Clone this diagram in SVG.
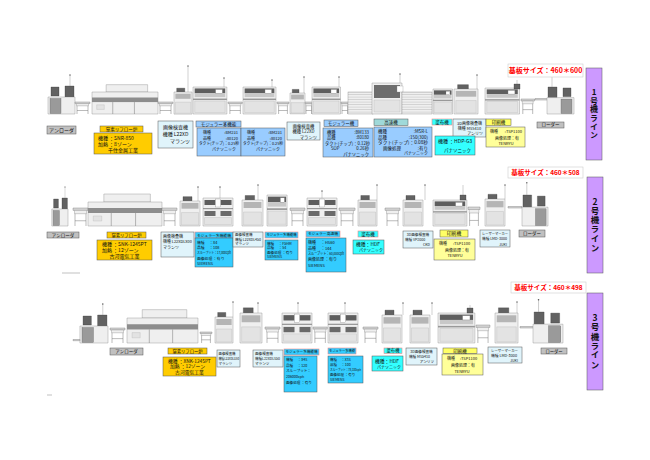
<svg xmlns="http://www.w3.org/2000/svg" width="650" height="460" viewBox="0 0 650 460">
<style>
.m1{fill:#efefef;stroke:#8a8a8a;stroke-width:.4;vector-effect:non-scaling-stroke}
.m2{fill:#d6d6d6;stroke:#777;stroke-width:.4;vector-effect:non-scaling-stroke}
.m3{fill:#e3e3e3;stroke:#aaa;stroke-width:.3;vector-effect:non-scaling-stroke}
.dk{fill:#626262;stroke:#333;stroke-width:.3;vector-effect:non-scaling-stroke}
.leg{fill:none;stroke:#777;stroke-width:.5;vector-effect:non-scaling-stroke}
.pole{stroke:#999;stroke-width:.45}
.lb{stroke:#555;stroke-width:.5}
.hr{stroke:#e88;stroke-width:.6}
.gray{fill:#c0c0c0}.gold{fill:#ffcc00}.pale{fill:#e0f4fb}.blue{fill:#99ccff}.cyan{fill:#33ccff}
.aqua{fill:#33ffff}.ylw{fill:#ffff99}.ylh{fill:#ffff66}.teal{fill:#9fd9d9}.purple{fill:#cc99ff}
.t{font-family:"Noto Sans CJK JP","Noto Sans",sans-serif;fill:#111}
.c{text-anchor:middle}.e{text-anchor:end}
.red{fill:#ff0000;font-weight:bold}
.b{font-weight:bold}
.vt{writing-mode:vertical-rl;text-orientation:upright;font-weight:bold;text-anchor:middle}
</style>
<defs>
<pattern id="stripe" width="4" height="2.5" patternUnits="userSpaceOnUse"><rect width="4" height="2.5" fill="#efefef"/><rect y="2" width="4" height=".5" fill="#bcbcbc"/></pattern>
<g id="tbl">
<rect x="0" y="0" width="15" height="1.6" class="m2"/>
<rect x="1.5" y="1.6" width="12" height="2.2" class="m1"/>
<path d="M2 3.8V12M13 3.8V12M2 8.5H13" class="leg"/>
</g>
<g id="mnt">
<rect x="0" y="0" width="30" height="28" class="m1"/>
<rect x="1.5" y="1.5" width="27" height="5" fill="#5e5e5e"/>
<rect x="1.5" y="6.5" width="27" height="4" fill="#c8c8c8"/>
<rect x="20" y="2.5" width="6" height="4" fill="#fff" stroke="#777" stroke-width=".3"/>
<rect x="0" y="12" width="30" height="1.5" fill="#999"/>
<rect x="1.5" y="14.5" width="27" height="12" class="m3"/>
</g>
<g id="mnt2">
<rect x="0" y="0" width="30" height="28" class="m1"/>
<rect x="1.5" y="2" width="11" height="5" fill="#5e5e5e"/>
<rect x="17.5" y="2" width="11" height="5" fill="#5e5e5e"/>
<rect x="12.5" y="1" width="5" height="8" fill="#fff" stroke="#777" stroke-width=".3"/>
<rect x="1.5" y="13" width="11" height="5" fill="#6a6a6a"/>
<rect x="17.5" y="13" width="11" height="5" fill="#6a6a6a"/>
<rect x="0" y="10" width="30" height="1.2" fill="#999"/>
<rect x="1.5" y="19.5" width="27" height="7" class="m3"/>
</g>
<g id="insp">
<rect x="3" y="-4.5" width="9" height="4.5" class="dk"/>
<rect x="0" y="0" width="20" height="26" class="m1"/>
<rect x="1.5" y="2" width="17" height="6" fill="#b5b5b5"/>
<rect x="1.5" y="12" width="17" height="13" class="m3"/>
</g>
<g id="reflow">
<rect x="15" y="-8" width="44" height="8" class="m1"/>
<rect x="0" y="0" width="70" height="24" class="m1"/>
<rect x="0" y="6" width="70" height="5" fill="#8d8d8d"/>
<path d="M22 11V24M45 11V24" class="leg"/>
<rect x="5" y="14" width="8" height="5" class="m3"/>
</g>
<g id="ldr">
<rect x="1" y="0" width="9" height="11" class="dk"/>
<rect x="16" y="1" width="8" height="9" class="dk"/>
<rect x="0" y="11" width="27" height="17" class="m1"/>
<rect x="14" y="12.5" width="11" height="15" fill="#9a9a9a" stroke="#555" stroke-width=".3"/>
<path d="M5 0V-11" class="pole"/><circle cx="5" cy="-11" r=".7" fill="#555"/>
</g>
</defs>

<g id="machines-line1">
<use href="#ldr" transform="translate(75,86) scale(-1,1)"/>
<use href="#tbl" transform="translate(75,102)"/>
<use href="#reflow" transform="translate(92,92) scale(0.943,0.917)"/>
<use href="#tbl" transform="translate(158,102)"/>
<use href="#insp" transform="translate(174,92) scale(0.9,0.85)"/>
<line class="pole" x1="188" y1="66" x2="188" y2="92"/><circle cx="188" cy="66" r=".7" fill="#555"/>
<use href="#mnt" transform="translate(193,87) scale(1.13,0.964)"/>
<line class="pole" x1="224" y1="78" x2="224" y2="87"/><circle cx="224" cy="78" r=".7" fill="#555"/>
<use href="#tbl" transform="translate(228,102) scale(0.95,1)"/>
<use href="#mnt" transform="translate(243,87) scale(1.1,0.964)"/>
<line class="pole" x1="272" y1="80" x2="272" y2="87"/><circle cx="272" cy="80" r=".7" fill="#555"/>
<use href="#tbl" transform="translate(277,102) scale(0.8,1)"/>
<use href="#insp" transform="translate(290,93) scale(0.75,0.8)"/>
<line class="pole" x1="304" y1="77" x2="304" y2="93"/><circle cx="304" cy="77" r=".7" fill="#555"/>
<use href="#tbl" transform="translate(305,102) scale(0.5,1)"/>
<use href="#mnt" transform="translate(312,87) scale(0.95,0.964)"/>
<line class="pole" x1="339" y1="77" x2="339" y2="87"/><circle cx="339" cy="77" r=".7" fill="#555"/>
<use href="#tbl" transform="translate(341,102) scale(0.5,1)"/>
<rect x="348" y="92" width="25" height="22" fill="url(#stripe)" stroke="#8a8a8a" stroke-width=".4"/>
<rect x="372" y="83" width="30" height="31" class="m1"/>
<rect x="374" y="85" width="26" height="13" fill="#6d6d6d"/>
<rect x="374" y="100" width="26" height="12" class="m3"/>
<rect x="397" y="86" width="6" height="6" fill="#fff" stroke="#888" stroke-width=".3"/>
<line class="pole" x1="400" y1="74" x2="400" y2="83"/><circle cx="400" cy="74" r=".7" fill="#555"/>
<rect x="402" y="92" width="30" height="22" fill="url(#stripe)" stroke="#8a8a8a" stroke-width=".4"/>
<use href="#mnt" transform="translate(433,89) scale(0.65,0.893)"/>
<use href="#insp" transform="translate(454,89) scale(1.2,0.96)"/>
<line class="pole" x1="477" y1="75" x2="477" y2="89"/><circle cx="477" cy="75" r=".7" fill="#555"/>
<use href="#mnt" transform="translate(485,88) scale(1.15,0.93)"/>
<line class="pole" x1="517" y1="80" x2="517" y2="84"/><rect x="514" y="84" width="6" height="5" class="dk"/>
<use href="#tbl" transform="translate(521,99) scale(0.9,1.25)"/>
<rect x="535" y="98.5" width="13" height="1.5" class="m2"/>
<use href="#ldr" transform="translate(547,87) scale(1,0.964)"/>
</g>

<g id="machines-line2">
<use href="#ldr" transform="translate(68,198) scale(-0.6,1)"/>
<use href="#tbl" transform="translate(73,208) scale(1,1.5)"/>
<use href="#reflow" transform="translate(88,202) scale(1.057,1)"/>
<use href="#tbl" transform="translate(162,208) scale(1,1.5)"/>
<use href="#insp" transform="translate(180,201) scale(1,0.96)"/>
<line class="pole" x1="198" y1="187" x2="198" y2="201"/><circle cx="198" cy="187" r=".7" fill="#555"/>
<use href="#mnt2" transform="translate(203,198)"/>
<line class="pole" x1="220" y1="187" x2="220" y2="198"/><circle cx="220" cy="187" r=".7" fill="#555"/>
<use href="#insp" transform="translate(242,200) scale(1.05,1)"/>
<line class="pole" x1="258" y1="185" x2="258" y2="200"/><circle cx="258" cy="185" r=".7" fill="#555"/>
<use href="#mnt" transform="translate(267,195) scale(0.67,1.107)"/>
<use href="#tbl" transform="translate(290,208) scale(1,1.5)"/>
<use href="#mnt2" transform="translate(307,198)"/>
<line class="pole" x1="322" y1="191" x2="322" y2="198"/><circle cx="322" cy="191" r=".7" fill="#555"/>
<use href="#tbl" transform="translate(339,208) scale(1.07,1.5)"/>
<use href="#insp" transform="translate(358,200) scale(0.95,1)"/>
<line class="pole" x1="377" y1="185" x2="377" y2="200"/><circle cx="377" cy="185" r=".7" fill="#555"/>
<use href="#tbl" transform="translate(385,208) scale(1,1.5)"/>
<use href="#insp" transform="translate(403,200)"/>
<line class="pole" x1="425" y1="185" x2="425" y2="200"/><circle cx="425" cy="185" r=".7" fill="#555"/>
<use href="#mnt" transform="translate(433,200) scale(1.13,0.93)"/>
<line class="pole" x1="463" y1="185" x2="463" y2="196"/><rect x="460" y="195" width="6" height="5" class="dk"/>
<use href="#tbl" transform="translate(468,207) scale(0.8,1.58)"/>
<use href="#insp" transform="translate(485,199) scale(1,1.04)"/>
<line class="pole" x1="505" y1="185" x2="505" y2="199"/><circle cx="505" cy="185" r=".7" fill="#555"/>
<rect x="508" y="206.5" width="14" height="1.5" class="m2"/>
<use href="#ldr" transform="translate(522,195) scale(0.963,1.107)"/>
</g>

<g id="machines-line3">
<use href="#ldr" transform="translate(108,315) scale(-1.04,1)"/>
<rect x="73" y="339.5" width="7" height="1.2" class="m2"/>
<use href="#tbl" transform="translate(110,328) scale(1,1.25)"/>
<use href="#reflow" transform="translate(127,318) scale(1.014,1.042)"/>
<use href="#tbl" transform="translate(200,332) scale(0.8,0.92)"/>
<use href="#insp" transform="translate(215,317) scale(0.9,1)"/>
<line class="pole" x1="233" y1="302" x2="233" y2="317"/><circle cx="233" cy="302" r=".7" fill="#555"/>
<use href="#insp" transform="translate(240,313) scale(1.1,1.154)"/>
<line class="pole" x1="258" y1="303" x2="258" y2="313"/><circle cx="258" cy="303" r=".7" fill="#555"/>
<use href="#tbl" transform="translate(265,327) scale(1,1.33)"/>
<use href="#mnt2" transform="translate(282,313) scale(1,1.07)"/>
<line class="pole" x1="298" y1="303" x2="298" y2="313"/><circle cx="298" cy="303" r=".7" fill="#555"/>
<use href="#tbl" transform="translate(313,327) scale(0.95,1.33)"/>
<use href="#mnt2" transform="translate(328,313) scale(1,1.07)"/>
<line class="pole" x1="345" y1="303" x2="345" y2="313"/><circle cx="345" cy="303" r=".7" fill="#555"/>
<use href="#tbl" transform="translate(363,327) scale(1,1.33)"/>
<use href="#insp" transform="translate(382,315) scale(1,1.077)"/>
<line class="pole" x1="403" y1="303" x2="403" y2="315"/><circle cx="403" cy="303" r=".7" fill="#555"/>
<use href="#insp" transform="translate(410,315) scale(1,1.077)"/>
<line class="pole" x1="432" y1="303" x2="432" y2="315"/><circle cx="432" cy="303" r=".7" fill="#555"/>
<use href="#mnt" transform="translate(438,313) scale(1.23,1.07)"/>
<line class="pole" x1="470" y1="305" x2="470" y2="309"/><rect x="467" y="308" width="6" height="5" class="dk"/>
<use href="#tbl" transform="translate(476,325) scale(0.93,1.5)"/>
<use href="#insp" transform="translate(495,313) scale(1.15,1.154)"/>
<line class="pole" x1="517" y1="302" x2="517" y2="313"/><circle cx="517" cy="302" r=".7" fill="#555"/>
<rect x="520" y="326.5" width="14" height="1.5" class="m2"/>
<use href="#ldr" transform="translate(533,312) scale(1.11,1.107)"/>
</g>

<g id="connectors"></g>

<line x1="62" y1="273" x2="80" y2="273" stroke="#999" stroke-width=".6"/>
<line x1="47" y1="395" x2="52" y2="395" stroke="#999" stroke-width=".6"/>

<!-- Line 1 labels -->
<g id="l1-size"><rect x="508" y="64" width="75" height="13" fill="#fff" stroke="#ccc" stroke-width=".6"/><text class="t red c" x="545.5" y="73.3" font-size="7">基板サイズ：460＊600</text></g>
<g id="l1-line"><rect x="586" y="68" width="16" height="92" class="purple lb"/><text class="t vt" x="594" y="114" font-size="8" letter-spacing="0.6">1号機ライン</text></g>
<g id="l1-unloader"><rect x="47" y="126" width="29" height="8" class="gray lb"/><text class="t c" x="61.5" y="131.8" font-size="5">アンローダ</text></g>
<g id="l1-reflow-head"><rect x="100" y="126" width="43" height="6" class="gold lb"/><text class="t c" x="121.5" y="130.7" font-size="4.5">窒素リフロー炉</text></g>
<g id="l1-reflow"><rect x="94" y="133" width="58" height="21" class="gold lb"/><text class="t" font-size="5"><tspan x="98" y="139.5">機種 ：SNR-850</tspan><tspan x="98" y="145.5">加熱 ：8ゾーン</tspan><tspan x="108" y="151.8">千住金属工業</tspan></text></g>
<g id="l1-insp1"><rect x="158" y="121" width="35" height="27" class="pale lb"/><text class="t c" font-size="5"><tspan x="175.5" y="128.5">画像検査機</tspan><tspan x="175.5" y="135.5">機種 L22XD</tspan></text><text class="t e" x="190" y="142.5" font-size="5">マランツ</text></g>
<g id="l1-mod-head"><rect x="196" y="121" width="45" height="6" class="blue lb"/><text class="t c" x="218.5" y="125.6" font-size="4.5">モジュラー多機能</text></g>
<g id="l1-mod1"><rect x="197" y="128" width="44" height="28" class="blue lb"/><text class="t" font-size="4"><tspan x="203" y="134">機種</tspan><tspan x="203" y="139.5">品種</tspan></text><text class="t e" font-size="4"><tspan x="238" y="134">:BM231</tspan><tspan x="238" y="139.5">:80120</tspan></text><text class="t" x="199" y="145" font-size="4" textLength="40" lengthAdjust="spacingAndGlyphs">タクト(チップ)：0.25秒</text><text class="t" x="212" y="150.5" font-size="4">パナソニック</text></g>
<g id="l1-mod2"><rect x="241" y="128" width="44" height="28" class="blue lb"/><text class="t" font-size="4"><tspan x="247" y="134">機種</tspan><tspan x="247" y="139.5">品種</tspan></text><text class="t e" font-size="4"><tspan x="282" y="134">:BM231</tspan><tspan x="282" y="139.5">:80120</tspan></text><text class="t" x="243" y="145" font-size="4" textLength="40" lengthAdjust="spacingAndGlyphs">タクト(チップ)：0.25秒</text><text class="t" x="256" y="150.5" font-size="4">パナソニック</text></g>
<g id="l1-insp2"><rect x="287" y="122" width="33" height="18" class="pale lb"/><text class="t c" font-size="4.3"><tspan x="303.5" y="127.5">画像検査機</tspan><tspan x="303.5" y="133">機種 L22XD</tspan></text><text class="t e" x="317" y="138.5" font-size="4.3">マランツ</text></g>
<g id="l1-mod3-head"><rect x="324" y="120" width="34" height="6.5" class="blue lb"/><text class="t c" x="341" y="124.8" font-size="4.5">モジュラー機</text></g>
<g id="l1-mod3"><rect x="323" y="128" width="50" height="29" class="blue lb"/><text class="t" font-size="4.3"><tspan x="327" y="133.5">機種</tspan><tspan x="327" y="139">品種</tspan><tspan x="331" y="150">SOP</tspan></text><text class="t e" font-size="4.3"><tspan x="369" y="133.5">:BM133</tspan><tspan x="369" y="139">:80180</tspan><tspan x="369" y="150">0.26秒</tspan><tspan x="369" y="155.5">パナソニック</tspan></text><text class="t" x="325" y="144.5" font-size="4.3" textLength="45" lengthAdjust="spacingAndGlyphs">タクト(チップ)：0.12秒</text></g>
<g id="l1-hs-head"><rect x="374" y="119" width="34" height="6.5" class="teal lb"/><text class="t c" x="391" y="123.8" font-size="4.5">高速機</text></g>
<g id="l1-hs"><rect x="374" y="127" width="58" height="30" class="blue lb"/><text class="t" font-size="4.5"><tspan x="378" y="133">機種</tspan><tspan x="378" y="138.5">品種</tspan><tspan x="383" y="149.5">画像処理</tspan></text><text class="t e" font-size="4.5"><tspan x="428" y="133">:MSR-L</tspan><tspan x="428" y="138.5">:150(300)</tspan><tspan x="428" y="149.5">:有り</tspan></text><text class="t" x="378" y="144" font-size="4.5" textLength="50" lengthAdjust="spacingAndGlyphs">タクト(チップ)：0.08秒</text><text class="t e" x="428" y="155" font-size="4">パナソニック</text></g>
<g id="l1-3d"><rect x="453" y="119" width="33" height="18" class="pale lb"/><text class="t c" font-size="4"><tspan x="469.5" y="124.5">3D画像検査機</tspan><tspan x="469.5" y="129.8">機種 MS5410</tspan></text><text class="t e" x="483" y="135" font-size="4">アンリツ</text></g>
<g id="l1-coat-head"><rect x="432" y="119" width="20" height="6" class="aqua hr"/><text class="t c" x="442" y="123.5" font-size="4.5">塗布機</text></g>
<g id="l1-coat"><rect x="435" y="136" width="40" height="19" class="aqua lb"/><text class="t" x="438" y="143" font-size="5">機種 ：HDP-G3</text><text class="t" x="444" y="151.5" font-size="4.5">パナソニック</text></g>
<g id="l1-print-head"><rect x="486" y="119" width="25" height="6.5" class="ylh lb"/><text class="t c" x="498.5" y="123.8" font-size="4.5">印刷機</text></g>
<g id="l1-print"><rect x="486" y="127" width="39" height="20" class="ylw lb"/><text class="t" x="490" y="132.5" font-size="4">機種</text><text class="t e" x="522" y="132.5" font-size="4">:TSP1100</text><text class="t c" font-size="4"><tspan x="507" y="139.5">画像処理：有</tspan><tspan x="506" y="144.5">TENRYU</tspan></text></g>
<g id="l1-loader"><rect x="537" y="122" width="27" height="6" class="gray lb"/><text class="t c" x="550.5" y="126.3" font-size="4.5">ローダー</text></g>

<!-- Line 2 labels -->
<g id="l2-size"><rect x="508" y="167" width="75" height="11" fill="#fff" stroke="#ccc" stroke-width=".6"/><text class="t red c" x="545.5" y="174.8" font-size="6.5">基板サイズ：460＊508</text></g>
<g id="l2-line"><rect x="587" y="177" width="16" height="96" class="purple lb"/><text class="t vt" x="595" y="225" font-size="8.5" letter-spacing="0.8">2号機ライン</text></g>
<g id="l2-unloader"><rect x="47" y="232" width="32" height="6" class="gray lb"/><text class="t c" x="63" y="236.6" font-size="4.5">アンローダ</text></g>
<g id="l2-reflow-head"><rect x="107" y="232" width="39" height="6" class="gold lb"/><text class="t c" x="126.5" y="236.6" font-size="4.3">窒素リフロー炉</text></g>
<g id="l2-reflow"><rect x="97" y="240" width="55" height="20" class="gold lb"/><text class="t" font-size="5"><tspan x="102" y="245.5">機種 ：SNK-1245PT</tspan><tspan x="102" y="251.5">加熱 ：12ゾーン</tspan></text><text class="t c" x="124.5" y="258" font-size="5">古河電気工業</text></g>
<g id="l2-insp1"><rect x="161" y="232" width="33" height="25" class="pale lb"/><text class="t" font-size="4"><tspan x="163" y="237.5">画像検査機</tspan><tspan x="163" y="249">マランツ</tspan></text><text class="t" x="163" y="243" font-size="4" textLength="29" lengthAdjust="spacingAndGlyphs">機種 L22XDLX00</text></g>
<g id="l2-mod1-head"><rect x="195" y="232" width="38" height="6" class="cyan hr"/><text class="t c" x="214" y="236.5" font-size="3.8">モジュラー多機能機</text></g>
<g id="l2-mod1"><rect x="195" y="238" width="38" height="29" class="cyan lb"/><text class="t" font-size="3.8"><tspan x="197" y="243.5">機種 　：X4</tspan><tspan x="197" y="248.8">品種 　：108</tspan><tspan x="197" y="259.5">画像処理 ：有り</tspan><tspan x="197" y="265">SIEMENS</tspan></text><text class="t" x="197" y="254.2" font-size="3.8" textLength="34" lengthAdjust="spacingAndGlyphs">スループット：17,000cph</text></g>
<g id="l2-insp2"><rect x="233" y="232" width="30" height="15" class="pale lb"/><text class="t" font-size="3.5"><tspan x="235" y="236.3">画像検査機</tspan><tspan x="235" y="245.4">マランツ</tspan></text><text class="t" x="235" y="240.8" font-size="3.5" textLength="26" lengthAdjust="spacingAndGlyphs">機種 L22XDL450</text></g>
<g id="l2-mod2-head"><rect x="265" y="232" width="33" height="6" class="cyan hr"/><text class="t c" x="281.5" y="236.4" font-size="3.6" textLength="30" lengthAdjust="spacingAndGlyphs">モジュラー多機能機</text></g>
<g id="l2-mod2"><rect x="265" y="240" width="33" height="20" class="cyan lb"/><text class="t" font-size="3.6"><tspan x="267" y="244.5">機種 　：F5HM</tspan><tspan x="267" y="249">品種 　：54</tspan><tspan x="267" y="253.5">画像処理 ：有り</tspan><tspan x="267" y="258.2">SIEMENS</tspan></text></g>
<g id="l2-hs-head"><rect x="306" y="231" width="34" height="6" class="cyan hr"/><text class="t c" x="323" y="235.4" font-size="3.8">モジュラー高速機</text></g>
<g id="l2-hs"><rect x="306" y="238" width="40" height="34" class="cyan lb"/><text class="t" font-size="4"><tspan x="308" y="244">機種 　：HS60</tspan><tspan x="308" y="249.5">品種 　：144</tspan><tspan x="308" y="261">画像処理 ：有り</tspan><tspan x="308" y="266.5">SIEMENS</tspan></text><text class="t" x="308" y="255.2" font-size="4" textLength="36" lengthAdjust="spacingAndGlyphs">スループット：60,000cph</text></g>
<g id="l2-coat-head"><rect x="358" y="231" width="20" height="6" class="aqua hr"/><text class="t c" x="368" y="235.6" font-size="4.5">塗布機</text></g>
<g id="l2-coat"><rect x="353" y="240" width="31" height="14" class="aqua lb"/><text class="t" x="356" y="246" font-size="4.8">機種：HDF</text><text class="t" x="359" y="252" font-size="4">パナソニック</text></g>
<g id="l2-3d"><rect x="403" y="231" width="30" height="17" class="pale lb"/><text class="t c" x="418" y="236" font-size="3.6">3D画像検査機</text><text class="t" x="405" y="241" font-size="3.6">機種 VP2000</text><text class="t e" x="430" y="246" font-size="3.6">CKD</text></g>
<g id="l2-print-head"><rect x="440" y="230" width="28" height="7" class="ylh lb"/><text class="t c" x="454" y="235.2" font-size="4.8">印刷機</text></g>
<g id="l2-print"><rect x="434" y="239" width="41" height="21" class="ylw lb"/><text class="t" font-size="4"><tspan x="439" y="244.5">機種</tspan><tspan x="453" y="244.5">:TSP1100</tspan></text><text class="t c" font-size="4"><tspan x="457" y="252">画像処理：有</tspan><tspan x="455" y="257">TENRYU</tspan></text></g>
<g id="l2-laser"><rect x="480" y="230" width="30" height="17" class="pale lb"/><text class="t" x="482" y="235" font-size="3.6" textLength="26" lengthAdjust="spacingAndGlyphs">レーザーマーカー</text><text class="t" x="482" y="240.2" font-size="3.6" textLength="25" lengthAdjust="spacingAndGlyphs">機種 LMD-3000</text><text class="t e" x="507" y="245.5" font-size="3.6">JUKI</text></g>
<g id="l2-loader"><rect x="519" y="230" width="26" height="7" class="gray lb"/><text class="t c" x="532" y="234.9" font-size="4.5">ローダー</text></g>

<!-- Line 3 labels -->
<g id="l3-size"><rect x="511" y="282" width="75" height="11" fill="#fff" stroke="#ccc" stroke-width=".6"/><text class="t red c" x="548.5" y="290" font-size="6.5">基板サイズ：460＊498</text></g>
<g id="l3-line"><rect x="587" y="293" width="16" height="97" class="purple lb"/><text class="t vt" x="595" y="341.5" font-size="8.5" letter-spacing="0.8">3号機ライン</text></g>
<g id="l3-unloader"><rect x="110" y="348" width="33" height="7" class="gray lb"/><text class="t c" x="126.5" y="353" font-size="4.5">アンローダ</text></g>
<g id="l3-reflow-head"><rect x="168" y="348" width="39" height="6" class="gold lb"/><text class="t c" x="187.5" y="352.5" font-size="4.3">窒素リフロー炉</text></g>
<g id="l3-reflow"><rect x="163" y="357" width="53" height="19" class="gold lb"/><text class="t" font-size="4.8"><tspan x="168" y="362.5">機種 ：XNK-1245PT</tspan><tspan x="170" y="368">加熱 ：12ゾーン</tspan></text><text class="t c" x="189.5" y="374" font-size="4.8">古河電気工業</text></g>
<g id="l3-insp1"><rect x="217" y="350" width="23" height="17" class="pale lb"/><text class="t" font-size="3.4"><tspan x="218.5" y="355">画像検査機</tspan><tspan x="218.5" y="365">マランツ</tspan></text><text class="t" x="218.5" y="360" font-size="3.4" textLength="20.5" lengthAdjust="spacingAndGlyphs">機種L22XDLS50</text></g>
<g id="l3-insp2"><rect x="253" y="350" width="30" height="17" class="pale lb"/><text class="t" font-size="3.6"><tspan x="255" y="355">画像検査機</tspan><tspan x="255" y="365">マランツ</tspan></text><text class="t" x="255" y="360" font-size="3.6" textLength="25" lengthAdjust="spacingAndGlyphs">機種L22XDLS50</text></g>
<g id="l3-mod1-head"><rect x="284" y="349" width="35" height="6" class="cyan hr"/><text class="t c" x="301.5" y="353.3" font-size="3.6" textLength="32" lengthAdjust="spacingAndGlyphs">モジュラー多機能機</text></g>
<g id="l3-mod1"><rect x="284" y="356" width="33" height="36" class="cyan lb"/><text class="t" font-size="3.6"><tspan x="286" y="361">機種 　：X4S</tspan><tspan x="286" y="366.5">品種 　：120</tspan><tspan x="286" y="372">スループット：</tspan><tspan x="286" y="378">206000cph</tspan><tspan x="286" y="384">画像処理 ：有り</tspan></text></g>
<g id="l3-mod2-head"><rect x="328" y="348" width="28" height="6" class="cyan hr"/><text class="t c" x="342" y="352.4" font-size="3.3" textLength="26" lengthAdjust="spacingAndGlyphs">モジュラー多機能</text></g>
<g id="l3-mod2"><rect x="328" y="356" width="35" height="27" class="cyan lb"/><text class="t" font-size="3.5"><tspan x="330" y="361">機種 　：X3S</tspan><tspan x="330" y="366">品種 　：100</tspan><tspan x="330" y="376.2">画像処理 ：有り</tspan><tspan x="330" y="381.2">SIEMENS</tspan></text><text class="t" x="330" y="371.1" font-size="3.5" textLength="31" lengthAdjust="spacingAndGlyphs">スループット：78,100cph</text></g>
<g id="l3-coat-head"><rect x="384" y="348" width="18" height="5.5" class="aqua hr"/><text class="t c" x="393" y="352.3" font-size="4.3">塗布機</text></g>
<g id="l3-coat"><rect x="372" y="356" width="31" height="15" class="aqua lb"/><text class="t" x="375" y="362.5" font-size="4.8">機種：HDF</text><text class="t" x="377" y="369" font-size="4">パナソニック</text></g>
<g id="l3-3d"><rect x="406" y="348" width="31" height="17" class="pale lb"/><text class="t c" x="421.5" y="353" font-size="3.6">3D画像検査機</text><text class="t" x="409" y="358" font-size="3.6">機種 MS5410</text><text class="t e" x="434" y="363" font-size="3.6">アンリツ</text></g>
<g id="l3-print-head"><rect x="443" y="348" width="34" height="5.5" class="ylh lb"/><text class="t c" x="460" y="352.5" font-size="4.5">印刷機</text></g>
<g id="l3-print"><rect x="442" y="354" width="41" height="21" class="ylw lb"/><text class="t" font-size="4"><tspan x="447" y="360">機種</tspan><tspan x="460" y="360">:TSP1100</tspan></text><text class="t c" font-size="4"><tspan x="463" y="367">画像処理：有</tspan><tspan x="462" y="372.5">TENRYU</tspan></text></g>
<g id="l3-laser"><rect x="488" y="347" width="34" height="16" class="pale lb"/><text class="t" x="491" y="352" font-size="3.6" textLength="27" lengthAdjust="spacingAndGlyphs">レーザーマーカー</text><text class="t" x="491" y="357" font-size="3.6" textLength="26" lengthAdjust="spacingAndGlyphs">機種 LMD-3000</text><text class="t e" x="518" y="362" font-size="3.6">JUKI</text></g>
<g id="l3-loader"><rect x="541" y="348" width="26" height="6" class="gray lb"/><text class="t c" x="554" y="352.5" font-size="4.3">ローダー</text></g>
</svg>
